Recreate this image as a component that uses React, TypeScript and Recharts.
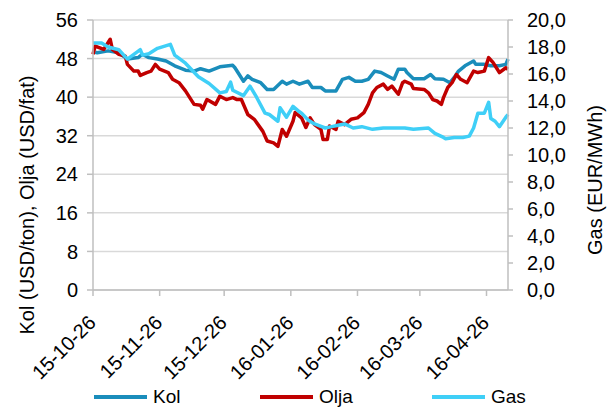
import { LineChart, Line, XAxis, YAxis, CartesianGrid, Legend } from 'recharts'

// --- Colors ---
const COLORS = {
  kol: '#1a8dbb',
  olja: '#c00000',
  gas: '#3fcff7',
  grid: '#d9d9d9',
  axis: '#bfbfbf',
}

const FONT = '"Liberation Sans", Arial, sans-serif'

// --- Axis ticks ---
const tickLabels = ['15-10-26', '15-11-26', '15-12-26', '16-01-26', '16-02-26', '16-03-26', '16-04-26']
const leftTicks = [0, 8, 16, 24, 32, 40, 48, 56]
const rightTicks = [0, 2, 4, 6, 8, 10, 12, 14, 16, 18, 20]

const START = Date.UTC(2015, 9, 26)
const dayOf = (label: string) => {
  const [yy, mm, dd] = label.split('-').map(Number)
  return Math.round((Date.UTC(2000 + yy, mm - 1, dd) - START) / 86400000)
}
const tickDays = tickLabels.map(dayOf)
const LAST_DAY = 193

// --- Series (day = days since 15-10-26) ---
const kolDays = [1, 2, 7, 12, 16, 21, 23, 26, 30, 34, 38, 43, 47, 50, 54, 59, 65, 66, 70, 72, 74, 78, 81, 84, 88, 90, 93, 96, 100, 102, 106, 108, 113, 116, 119, 122, 125, 128, 131, 134, 137, 140, 142, 145, 146, 149, 154, 157, 159, 163, 166, 168, 170, 173, 177, 178, 182, 185, 189, 192, 193]
const kolValues = [49.3, 49.2, 49.6, 49.2, 47.9, 48.2, 48.9, 48.2, 47.9, 47.5, 46.5, 45.6, 45.4, 45.9, 45.4, 46.3, 46.6, 46.1, 43.3, 44.4, 43.7, 43.0, 41.6, 41.6, 43.3, 42.7, 43.3, 42.7, 43.3, 42.0, 42.0, 41.3, 41.3, 43.7, 44.1, 43.3, 43.3, 43.7, 45.4, 45.1, 44.4, 43.7, 45.8, 45.8, 45.1, 43.8, 43.8, 44.7, 43.8, 43.7, 43.0, 44.1, 45.4, 46.5, 47.5, 46.8, 46.8, 46.5, 46.5, 46.8, 47.9]

const oljaDays = [0, 1, 5, 8, 9, 12, 15, 16, 19, 21, 22, 25, 27, 29, 31, 35, 37, 40, 43, 45, 47, 50, 51, 53, 57, 59, 62, 65, 67, 69, 72, 75, 79, 81, 84, 86, 88, 90, 93, 94, 97, 99, 101, 103, 106, 107, 109, 110, 113, 114, 117, 120, 123, 126, 128, 130, 132, 135, 137, 139, 142, 144, 145, 148, 149, 154, 156, 158, 160, 162, 163, 165, 167, 169, 171, 174, 177, 179, 182, 184, 186, 189, 192, 193]
const oljaValues = [48.9, 50.6, 49.9, 52.0, 49.9, 48.9, 48.5, 46.8, 45.4, 45.4, 44.5, 45.1, 45.4, 46.8, 45.8, 45.1, 43.7, 43.0, 41.3, 39.9, 38.5, 38.3, 37.5, 39.5, 38.5, 40.2, 39.5, 39.9, 39.5, 39.5, 36.4, 35.4, 32.9, 30.9, 30.5, 29.8, 33.3, 31.9, 35.0, 36.8, 35.7, 33.7, 35.7, 34.3, 33.3, 31.2, 31.2, 34.0, 33.3, 35.0, 34.3, 35.4, 35.7, 36.8, 38.5, 40.9, 42.0, 42.7, 41.6, 42.3, 40.6, 43.0, 43.3, 42.7, 41.8, 41.6, 40.9, 39.5, 39.2, 38.5, 39.9, 42.0, 43.0, 44.7, 43.7, 43.0, 45.4, 45.1, 45.4, 48.2, 47.2, 45.1, 46.1, 45.8]

const gasDays = [0, 4, 7, 12, 16, 22, 23, 26, 30, 36, 38, 43, 49, 54, 59, 62, 64, 65, 70, 73, 76, 80, 82, 86, 87, 90, 93, 96, 97, 100, 103, 108, 111, 114, 117, 121, 125, 130, 135, 139, 145, 149, 156, 159, 163, 164, 168, 172, 175, 177, 179, 182, 184, 185, 187, 189, 192, 193]
const gasValues = [18.3, 18.3, 18.0, 17.8, 17.1, 17.8, 17.4, 17.5, 17.9, 18.2, 17.4, 16.8, 15.8, 15.3, 14.6, 14.7, 15.4, 14.8, 14.4, 15.1, 14.3, 13.1, 13.0, 12.5, 13.5, 12.8, 13.6, 13.2, 13.1, 12.6, 12.3, 12.0, 12.1, 12.2, 12.3, 12.0, 12.1, 11.9, 12.0, 12.0, 12.0, 11.9, 12.0, 11.6, 11.3, 11.2, 11.3, 11.3, 11.4, 12.0, 13.1, 13.1, 13.9, 12.7, 12.5, 12.1, 12.8, 13.0]

const toRows = (days: number[], values: number[]) => days.map((day, i) => ({ day, value: values[i] }))
const kolData = toRows(kolDays, kolValues)
const oljaData = toRows(oljaDays, oljaValues)
const gasData = toRows(gasDays, gasValues)

const legendItems = [
  { name: 'Kol', color: COLORS.kol, left: 94 },
  { name: 'Olja', color: COLORS.olja, left: 260 },
  { name: 'Gas', color: COLORS.gas, left: 432 },
]

const labelForDay = (day: number) => tickLabels[tickDays.indexOf(day)] ?? ''

function DateTick({ x, y, payload }: { x: number; y: number; payload: { value: number } }) {
  const ax = x + 4
  const ay = y + 26
  return (
    <text x={ax} y={ay} transform={`rotate(-45, ${ax}, ${ay})`} textAnchor="end" fontSize={20} fill="#000" fontFamily={FONT}>
      {labelForDay(payload.value)}
    </text>
  )
}

function ChartLegend() {
  return (
    <div style={{ position: 'relative', width: 612, height: 24, fontFamily: FONT, fontSize: 19, lineHeight: '18px', color: '#000' }}>
      {legendItems.map((item) => (
        <div key={item.name} style={{ position: 'absolute', left: item.left, top: 5, display: 'flex', alignItems: 'center', height: 18 }}>
          <span style={{ display: 'inline-block', width: 53, height: 4, background: item.color, marginRight: 6 }} />
          <span>{item.name}</span>
        </div>
      ))}
    </div>
  )
}

const tickStyle = { fill: '#000', fontSize: 20, fontFamily: FONT }

export default function App() {
  return (
    <div style={{ position: 'absolute', left: 0, top: 0, width: 612, height: 407, background: '#fff', fontFamily: FONT }}>
      <LineChart width={612} height={407} margin={{ top: 20, right: 0, bottom: 0, left: 0 }}>
        <CartesianGrid yAxisId="left" vertical={false} stroke={COLORS.grid} strokeWidth={1.5} />
        <XAxis
          dataKey="day"
          type="number"
          domain={[0, LAST_DAY]}
          ticks={tickDays}
          tick={DateTick}
          interval={0}
          height={93}
          stroke={COLORS.axis}
          strokeWidth={1.5}
          tickSize={6}
          tickMargin={2}
          allowDuplicatedCategory={false}
        />
        <YAxis
          yAxisId="left"
          domain={[0, 56]}
          ticks={leftTicks}
          width={93}
          stroke={COLORS.axis}
          strokeWidth={1.5}
          tickSize={6}
          tickMargin={9}
          tick={tickStyle}
          interval={0}
        />
        <YAxis
          yAxisId="right"
          orientation="right"
          domain={[0, 20]}
          ticks={rightTicks}
          width={104}
          stroke={COLORS.axis}
          strokeWidth={1.5}
          tickSize={5}
          tickMargin={14}
          tick={{ ...tickStyle, textAnchor: 'start' }}
          interval={0}
          tickFormatter={(v: number) => v.toFixed(1).replace('.', ',')}
        />
        <Line yAxisId="left" data={kolData} dataKey="value" name="Kol" stroke={COLORS.kol} strokeWidth={3.5} dot={false} isAnimationActive={false} strokeLinejoin="round" />
        <Line yAxisId="left" data={oljaData} dataKey="value" name="Olja" stroke={COLORS.olja} strokeWidth={3.5} dot={false} isAnimationActive={false} strokeLinejoin="round" />
        <Line yAxisId="right" data={gasData} dataKey="value" name="Gas" stroke={COLORS.gas} strokeWidth={3.5} dot={false} isAnimationActive={false} strokeLinejoin="round" />
        <Legend verticalAlign="bottom" content={ChartLegend} wrapperStyle={{ left: 0, width: 612, height: 24 }} />
        <text x={27} y={205} transform="rotate(-90, 27, 205)" textAnchor="middle" dominantBaseline="central" fontSize={20} fill="#000" fontFamily={FONT}>
          Kol (USD/ton), Olja (USD/fat)
        </text>
        <text x={595} y={180} transform="rotate(-90, 595, 180)" textAnchor="middle" dominantBaseline="central" fontSize={20} fill="#000" fontFamily={FONT}>
          Gas (EUR/MWh)
        </text>
      </LineChart>
    </div>
  )
}
